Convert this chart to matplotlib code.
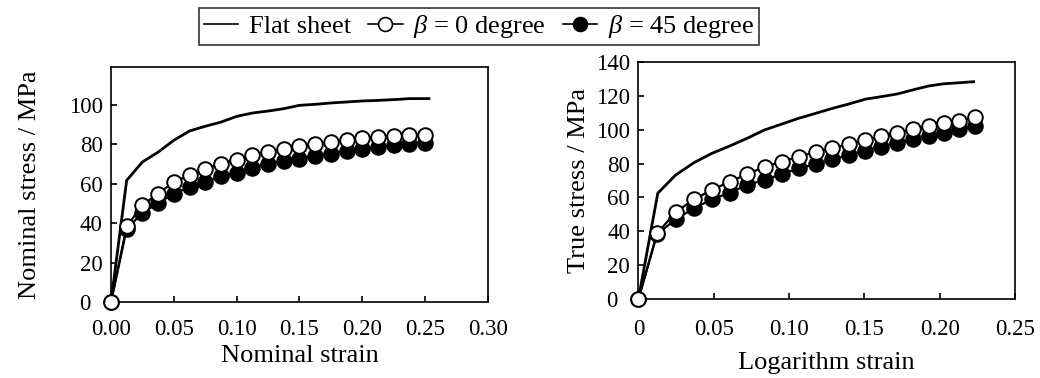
import matplotlib
matplotlib.use("Agg")
import matplotlib.pyplot as plt
from matplotlib.lines import Line2D

plt.rcParams['font.family'] = ['Liberation Serif', 'DejaVu Serif']
plt.rcParams['mathtext.fontset'] = 'custom'
plt.rcParams['mathtext.rm'] = 'Liberation Serif'
plt.rcParams['mathtext.it'] = 'Liberation Serif:italic'

# ---- Left panel: nominal ----
nom_strain = [0.0, 0.0125, 0.025, 0.0375, 0.05, 0.0625, 0.075, 0.0875, 0.10, 0.1125,
              0.125, 0.1375, 0.15, 0.1625, 0.175, 0.1875, 0.20, 0.2125, 0.225, 0.2375, 0.25]
nom_flat_x = [0.0, 0.0125, 0.025, 0.0375, 0.05, 0.0625, 0.075, 0.0875, 0.10, 0.1125,
              0.125, 0.1375, 0.15, 0.1625, 0.175, 0.1875, 0.20, 0.2125, 0.225, 0.2375, 0.253]
nom_flat = [0, 61.6, 70.9, 75.9, 81.9, 86.6, 89.0, 91.1, 94.0, 95.7, 96.7, 97.9, 99.6,
            100.1, 100.8, 101.3, 101.8, 102.1, 102.5, 103.0, 103.0]
nom_b0 = [0, 38.3, 49.0, 54.9, 60.8, 64.2, 67.5, 70.0, 72.0, 74.3, 75.9, 77.7, 79.0,
          79.8, 81.0, 81.9, 83.0, 83.5, 83.9, 84.6, 84.6]
nom_b45 = [0, 37.0, 45.1, 50.1, 54.9, 58.2, 60.8, 63.6, 65.3, 68.0, 70.0, 71.4, 72.6,
           73.9, 75.1, 76.5, 77.5, 78.5, 79.3, 79.8, 80.5]

# ---- Right panel: true / logarithmic ----
log_strain = [0.0, 0.0124, 0.0247, 0.0369, 0.0488, 0.0606, 0.0723, 0.0838, 0.0953, 0.1066,
              0.1178, 0.1288, 0.1398, 0.1506, 0.1613, 0.1719, 0.1823, 0.1927, 0.2029, 0.2131, 0.2231]
log_flat_x = [0.0, 0.0129, 0.0247, 0.0369, 0.0488, 0.0606, 0.0723, 0.0838, 0.0953, 0.1066,
              0.1178, 0.1288, 0.1398, 0.1506, 0.1613, 0.1719, 0.1823, 0.1927, 0.2029, 0.2131, 0.2225]
true_flat = [0, 62.5, 73.2, 80.5, 86.0, 90.3, 94.9, 99.8, 103.3, 106.7, 109.6, 112.5,
             115.1, 117.9, 119.4, 121.0, 123.4, 125.7, 127.0, 127.6, 128.2]
true_b0 = [0, 38.8, 51.3, 58.9, 64.4, 69.3, 73.8, 78.1, 81.1, 84.0, 87.0, 89.0, 91.5,
           93.9, 96.2, 98.2, 100.2, 102.1, 104.1, 105.2, 107.2]
true_b45 = [0, 38.3, 47.1, 53.6, 58.9, 62.8, 67.4, 70.3, 73.8, 77.2, 79.7, 82.5, 84.8,
            87.6, 89.9, 92.3, 94.3, 96.2, 98.2, 100.2, 102.1]

left_xticks = [0.0, 0.05, 0.10, 0.15, 0.20, 0.25, 0.30]
left_xticklabels = ['0.00', '0.05', '0.10', '0.15', '0.20', '0.25', '0.30']
left_yticks = [0, 20, 40, 60, 80, 100]
right_xticks = [0.0, 0.05, 0.10, 0.15, 0.20, 0.25]
right_xticklabels = ['0', '0.05', '0.10', '0.15', '0.20', '0.25']
right_yticks = [0, 20, 40, 60, 80, 100, 120, 140]

legend_labels = ['Flat sheet', r'$\beta$ = 0 degree', r'$\beta$ = 45 degree']

fig = plt.figure(figsize=(10.4, 3.78), dpi=100)
axL = fig.add_axes([0.1067, 0.201, 0.3625, 0.6217])
axR = fig.add_axes([0.6138, 0.2082, 0.3622, 0.6286])

ms = 10.5
mew = 1.4
FS_TICK = 16.5
FS_LAB = 19

def draw(ax, fx, fy, x, b0, b45, xpad):
    ax.plot(fx, fy, color='black', lw=2.0, zorder=3, clip_on=False)
    ax.plot(x, b45, color='black', lw=1.6, marker='o', ms=ms, mfc='black', mec='black',
            mew=mew, zorder=4, clip_on=False)
    ax.plot(x, b0, color='black', lw=1.6, marker='o', ms=ms, mfc='white', mec='black',
            mew=mew, zorder=5, clip_on=False)
    ax.tick_params(direction='in', length=4, width=1.2, labelsize=FS_TICK)
    ax.tick_params(axis='y', pad=6)
    ax.tick_params(axis='x', pad=xpad)
    for s in ax.spines.values():
        s.set_linewidth(1.2)

draw(axL, nom_flat_x, nom_flat, nom_strain, nom_b0, nom_b45, 12.5)
axL.set_xlim(0, 0.298)
axL.set_ylim(0, 119)
axL.set_xticks(left_xticks)
axL.set_xticklabels(left_xticklabels)
axL.set_yticks(left_yticks)
axL.yaxis.get_major_ticks()[0].set_pad(15)
axL.set_xlabel('Nominal strain', fontsize=FS_LAB, labelpad=3)
axL.set_ylabel('Nominal stress / MPa', fontsize=FS_LAB, labelpad=20)

draw(axR, log_flat_x, true_flat, log_strain, true_b0, true_b45, 14.5)
axR.set_xlim(0, 0.25)
axR.set_ylim(0, 140)
axR.set_xticks(right_xticks)
axR.set_xticklabels(right_xticklabels)
axR.set_yticks(right_yticks)
axR.yaxis.get_major_ticks()[0].set_pad(15)
axR.set_xlabel('Logarithm strain', fontsize=FS_LAB, labelpad=8)
axR.set_ylabel('True stress / MPa', fontsize=FS_LAB, labelpad=4)

handles = [
    Line2D([], [], color='black', lw=1.2),
    Line2D([], [], color='black', lw=1.2, marker='o', ms=10, mfc='white', mec='black', mew=1.2),
    Line2D([], [], color='black', lw=1.2, marker='o', ms=10, mfc='black', mec='black', mew=1.2),
]
leg = fig.legend(handles, legend_labels, loc='center', bbox_to_anchor=(0.4606, 0.930),
                 ncol=3, fontsize=FS_LAB, frameon=True, fancybox=False, edgecolor='black',
                 handlelength=1.3, handletextpad=0.4, columnspacing=0.65, borderpad=0.2,
                 borderaxespad=0)
leg.get_frame().set_linewidth(1.2)

fig.savefig('out.png', dpi=100)
